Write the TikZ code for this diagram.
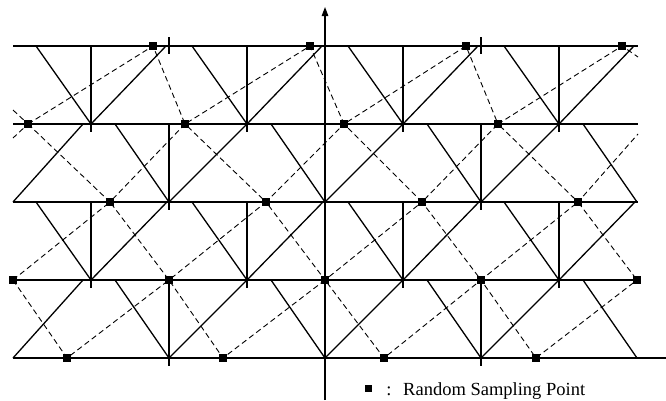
\documentclass[tikz,border=0pt]{standalone}
\usepackage{fontspec}
\setmainfont{Liberation Serif}
\usetikzlibrary{arrows.meta}
\begin{document}
\begin{tikzpicture}[x=1pt,y=-1pt,
  gridline/.style={line width=1.1pt},
  arm/.style={line width=1.3pt, line join=miter},
  vert/.style={line width=1.2pt},
  samplink/.style={line width=0.9pt, dash pattern=on 5.5pt off 3.5pt},
  samp/.style={rectangle, fill=black, draw=none, minimum size=8.5pt, inner sep=0pt},
  legsq/.style={rectangle, fill=black, draw=none, minimum size=7pt, inner sep=0pt},
  legtext/.style={inner sep=0pt, font=\fontsize{18.5}{20}\selectfont}
]
\useasboundingbox (0,0) rectangle (666,400);

% horizontal lines
\foreach \y in {46,124,202,280} \draw[gridline] (13,\y) -- (638,\y);
\draw[gridline] (13,358) -- (666,358);

% odd bands (V with vertex at bottom, columns 91,247,403,559)
\foreach \t/\r in {46/75,202/76} {
  \foreach \x in {91,247,403,559} {
    \draw[arm] ({\x-55},\t) -- (\x,{\t+78}) -- ({\x+\r},\t);
    \draw[vert] (\x,\t) -- (\x,{\t+86});
  }
}
% even bands (columns 169,325,481 and partial at 13, 637)
\foreach \t in {124,280} {
  \foreach \x in {169,325,481} {
    \draw[arm] ({\x-54},\t) -- (\x,{\t+78}) -- ({\x+78},\t);
  }
  \foreach \x in {169,481} \draw[vert] (\x,\t) -- (\x,{\t+86});
  \draw[arm] (583,\t) -- (637,{\t+78});
  \draw[arm] (13,{\t+78}) -- (83,\t);
}
% ticks on top line
\draw[vert] (169,37) -- (169,54);
\draw[vert] (481,37) -- (481,54);

% axis
\coordinate (axb) at (325,400);
\coordinate (axt) at (325,7);
\draw[line width=1.2pt, -{Triangle[length=9pt,width=6.5pt]}] (axb) -- (axt);

% sampling points
\coordinate (a1) at (153,46); \coordinate (a2) at (310,46);
\coordinate (a3) at (466,46); \coordinate (a4) at (622,46);
\coordinate (b1) at (28,124); \coordinate (b2) at (185,124);
\coordinate (b3) at (344,124); \coordinate (b4) at (498,124);
\coordinate (c1) at (110,202); \coordinate (c2) at (266,202);
\coordinate (c3) at (422,202); \coordinate (c4) at (578,202);
\coordinate (d0) at (13,280); \coordinate (d1) at (169,280);
\coordinate (d2) at (325,280); \coordinate (d3) at (481,280);
\coordinate (d4) at (637,280);
\coordinate (e1) at (67,358); \coordinate (e2) at (223,358);
\coordinate (e3) at (384,358); \coordinate (e4) at (536,358);
% free ends at the borders
\coordinate (sa) at (638,57); \coordinate (sc) at (638,134);
\coordinate (sl1) at (13,110); \coordinate (sl2) at (13,138);

\draw[samplink] (b1) -- (a1) -- (b2) -- (a2) -- (b3) -- (a3) -- (b4) -- (a4) -- (sa);
\draw[samplink] (b1) -- (c1) -- (b2) -- (c2) -- (b3) -- (c3) -- (b4) -- (c4) -- (sc);
\draw[samplink] (d0) -- (c1) -- (d1) -- (c2) -- (d2) -- (c3) -- (d3) -- (c4) -- (d4);
\draw[samplink] (d0) -- (e1) -- (d1) -- (e2) -- (d2) -- (e3) -- (d3) -- (e4) -- (d4);
\draw[samplink] (sl1) -- (b1) -- (sl2);

\foreach \p in {a1,a2,a3,a4,b1,b2,b3,b4,c1,c2,c3,c4,d0,d1,d2,d3,d4,e1,e2,e3,e4}
  \node[samp] (q\p) at (\p) {};

% legend
\node[legsq] (legsquare) at (368.5,388.5) {};
\node[legtext, anchor=base] (colon) at (389,395) {:};
\node[legtext, anchor=base west] (legend) at (403,395) {Random Sampling Point};
\end{tikzpicture}
\end{document}
